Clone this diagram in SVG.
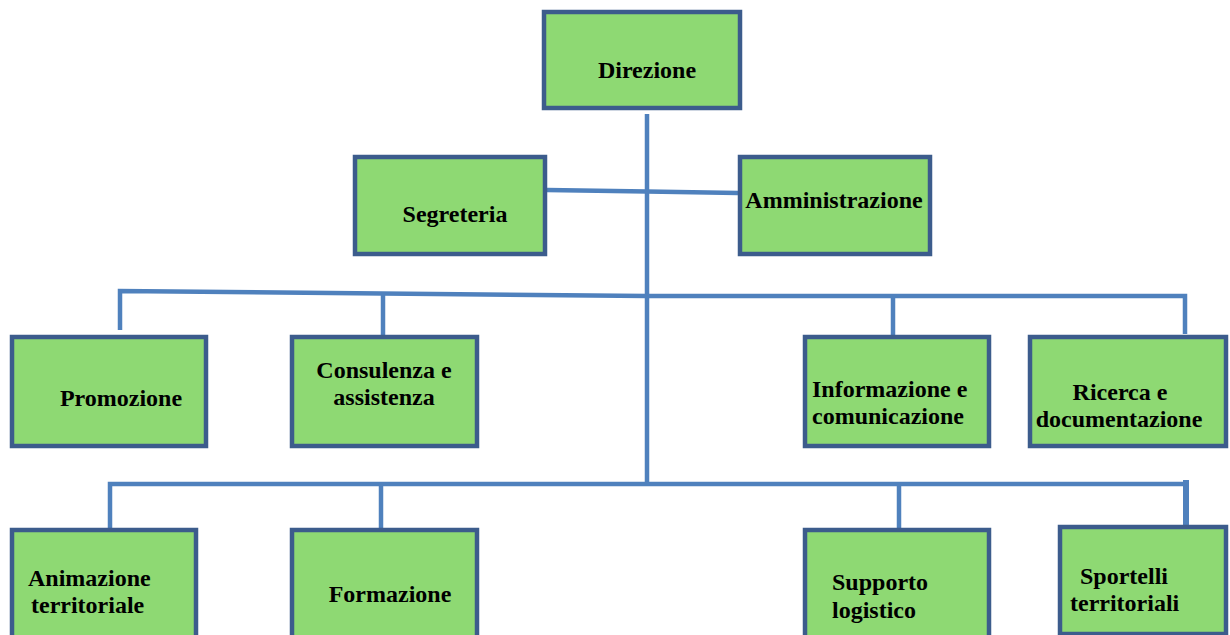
<svg xmlns="http://www.w3.org/2000/svg" width="1230" height="635" viewBox="0 0 1230 635">
<style>
.box{fill:#8ed973;stroke:#3c5c8c;stroke-width:4.5}
.ln{fill:none;stroke:#4f81bd;stroke-width:4.5}
text{font-family:"Liberation Serif","Times New Roman",serif;font-weight:bold;font-size:24px;fill:#000}
</style>
<rect width="1230" height="635" fill="#fff"/>
<g id="connectors">
<line class="ln" x1="647" y1="114" x2="647" y2="486"/>
<polyline class="ln" points="547,190 647,191.5 738,193"/>
<polyline class="ln" points="120,330 120,291 647,296 1185,296 1185,334"/>
<line class="ln" x1="383" y1="294" x2="383" y2="335"/>
<line class="ln" x1="893" y1="296" x2="893" y2="335"/>
<polyline class="ln" points="110,528 110,484 1185,484"/>
<line class="ln" x1="381" y1="484" x2="381" y2="528"/>
<line class="ln" x1="899" y1="484" x2="899" y2="528"/>
<line class="ln" x1="1186" y1="480" x2="1186" y2="526" style="stroke-width:6"/>
</g>
<g id="direzione"><rect class="box" x="544" y="12" width="196" height="96"/><text x="647" y="78" text-anchor="middle">Direzione</text></g>
<g id="segreteria"><rect class="box" x="355" y="157" width="190" height="97"/><text x="455" y="222" text-anchor="middle">Segreteria</text></g>
<g id="amministrazione"><rect class="box" x="740" y="157" width="190" height="97"/><text x="834" y="208" text-anchor="middle">Amministrazione</text></g>
<g id="promozione"><rect class="box" x="12" y="337" width="194" height="109"/><text x="121" y="406" text-anchor="middle">Promozione</text></g>
<g id="consulenza"><rect class="box" x="292" y="337" width="185" height="109"/><text x="384" y="378" text-anchor="middle">Consulenza e</text><text x="384" y="405" text-anchor="middle">assistenza</text></g>
<g id="informazione"><rect class="box" x="805" y="337" width="184" height="109"/><text x="812" y="397">Informazione e</text><text x="812" y="424">comunicazione</text></g>
<g id="ricerca"><rect class="box" x="1030" y="337" width="196" height="109"/><text x="1120" y="400" text-anchor="middle">Ricerca e</text><text x="1119" y="427" text-anchor="middle">documentazione</text></g>
<g id="animazione"><rect class="box" x="12" y="530" width="184" height="115"/><text x="28" y="586">Animazione</text><text x="31" y="613">territoriale</text></g>
<g id="formazione"><rect class="box" x="292" y="530" width="185" height="115"/><text x="390" y="602" text-anchor="middle">Formazione</text></g>
<g id="supporto"><rect class="box" x="805" y="530" width="184" height="115"/><text x="832" y="590">Supporto</text><text x="832" y="618">logistico</text></g>
<g id="sportelli"><rect class="box" x="1060" y="527" width="166" height="107"/><text x="1080" y="584">Sportelli</text><text x="1070" y="611">territoriali</text></g>
</svg>
